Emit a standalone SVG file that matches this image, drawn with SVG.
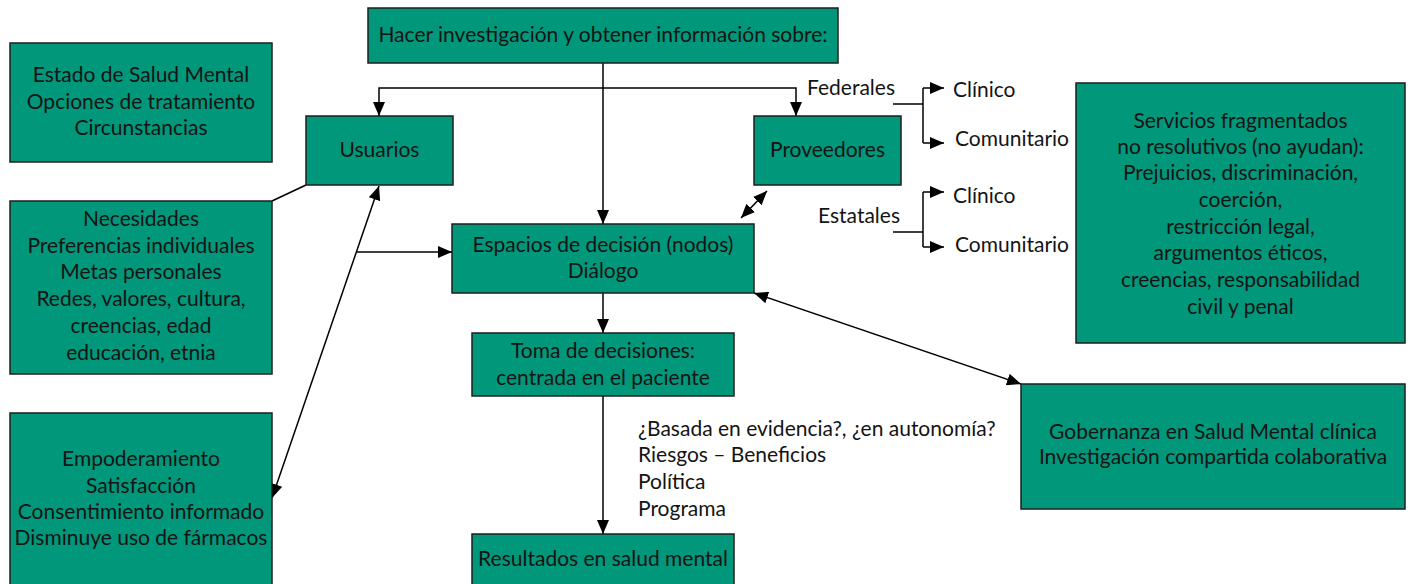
<svg xmlns="http://www.w3.org/2000/svg" width="1411" height="584" viewBox="0 0 1411 584">
<style>
.box{fill:#00977a;stroke:#1e1e1e;stroke-width:1.5}
text{font-family:Lato,"Open Sans","Liberation Sans",sans-serif;font-size:21px;fill:#141414}
.c{text-anchor:middle}
.e{text-anchor:end}
.ln{fill:none;stroke:#000;stroke-width:1.5}
</style>
<defs>
<marker id="ah" markerWidth="14" markerHeight="12" refX="14" refY="6" orient="auto" markerUnits="userSpaceOnUse">
<path d="M0,0 L14,6 L0,12 Z" fill="#000"/>
</marker>
<marker id="as" markerWidth="14" markerHeight="12" refX="0" refY="6" orient="auto" markerUnits="userSpaceOnUse">
<path d="M14,0 L0,6 L14,12 Z" fill="#000"/>
</marker>
</defs>
<rect width="1411" height="584" fill="#fff"/>

<g id="connectors">
<path class="ln" d="M603,63 V224" marker-end="url(#ah)"/>
<path class="ln" d="M603,88 H379 V116" marker-end="url(#ah)"/>
<path class="ln" d="M603,88 H796 V116" marker-end="url(#ah)"/>
<path class="ln" d="M603,293 V333" marker-end="url(#ah)"/>
<path class="ln" d="M603,396 V534" marker-end="url(#ah)"/>
<path class="ln" d="M272,201 L306,185"/>
<path class="ln" d="M379,186 L272,498" marker-start="url(#as)" marker-end="url(#ah)"/>
<path class="ln" d="M357,252 H452" marker-end="url(#ah)"/>
<path class="ln" d="M741,218 L767,191" marker-start="url(#as)" marker-end="url(#ah)"/>
<path class="ln" d="M754,293 L1021,384" marker-start="url(#as)" marker-end="url(#ah)"/>
<path class="ln" d="M893,104 H923"/>
<path class="ln" d="M923,88 V143"/>
<path class="ln" d="M923,88 H944" marker-end="url(#ah)"/>
<path class="ln" d="M923,143 H944" marker-end="url(#ah)"/>
<path class="ln" d="M893,232 H923"/>
<path class="ln" d="M923,192 V247"/>
<path class="ln" d="M923,192 H944" marker-end="url(#ah)"/>
<path class="ln" d="M923,247 H944" marker-end="url(#ah)"/>
</g>

<g id="labels">
<text class="e" x="895" y="95">Federales</text>
<text class="e" x="900" y="223">Estatales</text>
<text x="953" y="97">Clínico</text>
<text x="955" y="146">Comunitario</text>
<text x="953" y="203">Clínico</text>
<text x="955" y="252">Comunitario</text>
<text x="638" y="436">¿Basada en evidencia?, ¿en autonomía?</text>
<text x="638" y="462">Riesgos – Beneficios</text>
<text x="638" y="489">Política</text>
<text x="638" y="516">Programa</text>
</g>

<g id="n-estado">
<rect class="box" x="10" y="43" width="262" height="119"/>
<text class="c" x="141" y="82">Estado de Salud Mental</text>
<text class="c" x="141" y="109">Opciones de tratamiento</text>
<text class="c" x="141" y="135">Circunstancias</text>
</g>

<g id="n-hacer">
<rect class="box" x="368" y="8" width="470" height="55"/>
<text class="c" x="603" y="42">Hacer investigación y obtener información sobre:</text>
</g>

<g id="n-usuarios">
<rect class="box" x="306" y="116" width="147" height="69"/>
<text class="c" x="379.5" y="157">Usuarios</text>
</g>

<g id="n-proveedores">
<rect class="box" x="754" y="116" width="147" height="69"/>
<text class="c" x="827.5" y="157">Proveedores</text>
</g>

<g id="n-necesidades">
<rect class="box" x="10" y="201" width="262" height="173"/>
<text class="c" x="141" y="226">Necesidades</text>
<text class="c" x="141" y="253">Preferencias individuales</text>
<text class="c" x="141" y="279">Metas personales</text>
<text class="c" x="141" y="306">Redes, valores, cultura,</text>
<text class="c" x="141" y="333">creencias, edad</text>
<text class="c" x="141" y="360">educación, etnia</text>
</g>

<g id="n-empoderamiento">
<rect class="box" x="10" y="413" width="262" height="175"/>
<text class="c" x="141" y="466">Empoderamiento</text>
<text class="c" x="141" y="493">Satisfacción</text>
<text class="c" x="141" y="519">Consentimiento informado</text>
<text class="c" x="141" y="545">Disminuye uso de fármacos</text>
</g>

<g id="n-espacios">
<rect class="box" x="452" y="224" width="302" height="69"/>
<text class="c" x="603" y="252">Espacios de decisión (nodos)</text>
<text class="c" x="603" y="278">Diálogo</text>
</g>

<g id="n-toma">
<rect class="box" x="472" y="333" width="262" height="63"/>
<text class="c" x="603" y="358">Toma de decisiones:</text>
<text class="c" x="603" y="385">centrada en el paciente</text>
</g>

<g id="n-resultados">
<rect class="box" x="472" y="534" width="262" height="54"/>
<text class="c" x="603" y="566">Resultados en salud mental</text>
</g>

<g id="n-servicios">
<rect class="box" x="1076" y="83" width="329" height="260"/>
<text class="c" x="1240.5" y="128">Servicios fragmentados</text>
<text class="c" x="1240.5" y="154">no resolutivos (no ayudan):</text>
<text class="c" x="1240.5" y="180">Prejuicios, discriminación,</text>
<text class="c" x="1240.5" y="207">coerción,</text>
<text class="c" x="1240.5" y="234">restricción legal,</text>
<text class="c" x="1240.5" y="260">argumentos éticos,</text>
<text class="c" x="1240.5" y="287">creencias, responsabilidad</text>
<text class="c" x="1240.5" y="314">civil y penal</text>
</g>

<g id="n-gobernanza">
<rect class="box" x="1021" y="384" width="384" height="125"/>
<text class="c" x="1213" y="439">Gobernanza en Salud Mental clínica</text>
<text class="c" x="1213" y="464">Investigación compartida colaborativa</text>
</g>
</svg>
